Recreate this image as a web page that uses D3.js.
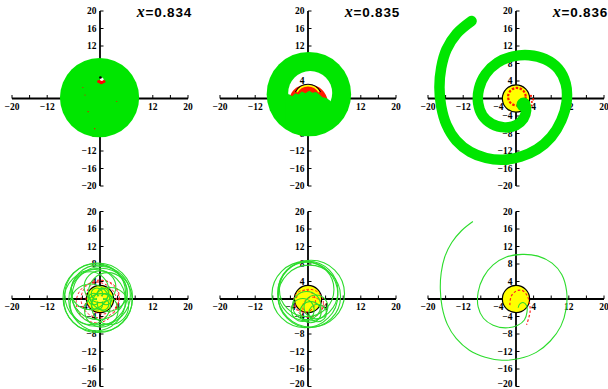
<!DOCTYPE html>
<html>
<head>
<meta charset="utf-8">
<script src="https://cdn.jsdelivr.net/npm/d3@7"></script>
<style>
  html, body { margin: 0; padding: 0; background: #fff; }
  svg { display: block; }
</style>
</head>
<body>
<svg id="fig" width="608" height="389"></svg>
<script>
// ---- axis annotation ----
const titles = ["0.834", "0.835", "0.836"];
const xTickLabels = [-20, -12, -4, 4, 12, 20];
const yTickLabels = [20, 16, 12, 8, 4, -4, -8, -12, -16, -20];
const tickMarks = [-20, -16, -12, -8, -4, 4, 8, 12, 16, 20];
const horizonR = 3.1;

// ---- x = 0.834, full photon cloud ----
const cloud834 = [{ x: -0.1, y: 0.2, r: 9.0 }];
const redSpots834 = [
  { x: 0.3, y: 3.8, r: 0.55 }, { x: -0.3, y: 3.9, r: 0.35 }, { x: 0.9, y: 3.9, r: 0.35 },
  { x: -2.7, y: -3.0, r: 0.15 }, { x: -3.4, y: 0.8, r: 0.12 }, { x: 3.8, y: -0.7, r: 0.12 },
  { x: -3.9, y: 2.5, r: 0.12 }, { x: -1.2, y: -6.9, r: 0.15 }
];
const gap834 = [{ x: 0.4, y: 4.4, r: 0.4 }];
const dot834 = [{ x: 0.1, y: 4.8, r: 0.3 }];

// ---- x = 0.835, ring with central cavity ----
const ring835 = [{ x: 0.2, y: 1.0, r: 9.6 }];
const hole835 = [{ x: 0.5, y: 1.25, r: 5.0 }];
const dome835 = [
  [-4.3, -0.3], [-4.0, 0.8], [-3.2, 2.0], [-2.0, 2.8], [0, 3.15], [2.0, 2.8],
  [3.2, 2.0], [4.0, 0.9], [4.5, -0.5], [4.4, -1.6], [3.6, -1.2]
];
const floor835 = [
  [-5.2, 0.9], [-4.3, 1.0], [-3.6, 0.5], [-2.9, 1.2], [-2.2, 0.9], [-1.4, 1.6],
  [-0.6, 1.2], [0.3, 1.8], [1.0, 1.3], [1.8, 1.5], [2.6, 0.9], [3.3, 0.3],
  [4.2, 0.1], [5.2, -0.6], [5.2, -5.0], [-5.2, -5.0]
];

// ---- x = 0.836, escaping spiral ----
const spiral836 = [
  [-10.1, 17.7], [-13.5, 14.8], [-15.8, 11.2], [-17.0, 7.0], [-17.4, 2.6], [-17.0, -1.8],
  [-15.8, -6.0], [-13.6, -9.6], [-10.4, -12.2], [-6.8, -13.6], [-3.0, -14.0], [1.0, -13.3],
  [4.8, -11.6], [8.0, -8.8], [10.3, -5.0], [11.5, -0.8], [11.3, 3.4], [9.6, 6.8],
  [6.6, 9.0], [3.0, 9.9], [-0.8, 9.6], [-4.2, 8.2], [-6.9, 5.6], [-8.4, 2.3],
  [-8.6, -1.1], [-7.6, -3.9], [-5.5, -5.8], [-2.6, -6.6], [0.0, -6.1], [1.7, -4.6],
  [2.3, -2.8], [2.0, -1.2]
];
const inner836 = [
  { x: 0.2, y: 0.4, r: 2.0 }, { x: 1.7, y: -1.4, r: 1.6 }
];
const redDots836 = [[3.6, -0.8], [3.9, -0.2], [3.4, 0.6], [3.5, -1.6], [2.9, -2.6]];

// ---- bottom row: single geodesics ----
const loops834 = [
  { x: -0.5, y: 0.3, r: 7.9 }, { x: -0.9, y: 0.9, r: 7.1 }, { x: 0.1, y: -0.2, r: 7.2 },
  { x: -1.2, y: -0.3, r: 7.0 }, { x: 0.3, y: 0.8, r: 6.6 }, { x: -0.4, y: 1.5, r: 6.2 },
  { x: -2.2, y: -1.2, r: 4.6 }, { x: 1.8, y: 1.6, r: 4.4 }, { x: 2.3, y: -1.6, r: 4.2 },
  { x: -2.3, y: 1.9, r: 4.3 }, { x: 0.3, y: -2.6, r: 3.8 }, { x: 0.0, y: 2.8, r: 3.6 },
  { x: 1.4, y: 0.0, r: 1.3 }, { x: 0.7, y: 1.2, r: 1.3 }, { x: -0.7, y: 1.2, r: 1.3 },
  { x: -1.4, y: 0.0, r: 1.3 }, { x: -0.7, y: -1.2, r: 1.3 }, { x: 0.7, y: -1.2, r: 1.3 }
];
const dashes834 = [
  { x: 0.0, y: 0.0, r: 4.3 }, { x: -0.8, y: -0.8, r: 4.6 }, { x: 0.6, y: 0.4, r: 3.8 }
];
const loops835 = [
  { x: -0.7, y: 1.0, r: 7.5 }, { x: 0.7, y: 1.2, r: 7.6 }, { x: 0.0, y: 1.8, r: 6.8 },
  { x: 0.3, y: 0.6, r: 7.1 }, { x: -0.3, y: 2.2, r: 6.2 },
  { x: -1.2, y: -2.5, r: 2.6 }, { x: 0.6, y: -3.0, r: 2.4 }, { x: 1.8, y: -1.8, r: 2.7 },
  { x: -0.3, y: -1.5, r: 3.2 }, { x: 2.2, y: -3.2, r: 2.0 }
];
const dashes835 = [
  { x: 0.3, y: -1.0, r: 3.2 }, { x: 1.0, y: -1.8, r: 2.2 }, { x: -0.8, y: -0.5, r: 2.5 }
];
const track836 = [
  [-9.8, 17.7], [-12.4, 15.6], [-14.6, 12.9], [-16.2, 9.6], [-17.0, 6.0], [-17.2, 2.2],
  [-16.8, -1.8], [-15.6, -5.8], [-13.6, -9.0], [-10.6, -11.7], [-7.0, -13.3], [-3.2, -14.0],
  [0.8, -13.6], [4.6, -12.2], [7.8, -9.6], [10.2, -6.2], [11.4, -2.2], [11.5, 1.8],
  [10.4, 5.6], [8.2, 8.2], [5.0, 9.8], [1.4, 10.2], [-2.2, 9.6], [-5.2, 7.8],
  [-7.4, 5.0], [-8.6, 1.6], [-8.6, -1.8], [-7.4, -4.4], [-5.2, -6.0], [-2.4, -6.6],
  [0.4, -6.0], [1.9, -4.8], [2.5, -3.0], [2.4, -1.5], [1.6, -0.8], [0.8, -1.2], [0.5, -2.0]
];
const dashTrack836 = [
  [-1.4, -1.4], [-1.1, 0.6], [0.0, 1.8], [1.3, 2.0], [2.4, 1.0], [3.0, -0.6], [3.2, -2.9], [2.4, -5.9]
];

// ---- layout ----
const colCenters = [100, 308, 516];
const rowCenters = [98.5, 299];
const GREEN = "#00e600";
const LINE_GREEN = "#2cdc2c";
const svg = d3.select("#fig");
const smooth = d3.curveCatmullRom.alpha(0.5);

function makePanel(col, row) {
  const cx = colCenters[col], cy = rowCenters[row];
  const x = d3.scaleLinear().domain([-20, 20]).range([cx - 88, cx + 88]);
  const y = d3.scaleLinear().domain([-20, 20]).range([cy + 87.5, cy - 87.5]);
  const g = svg.append("g");
  const axes = g.append("g");
  const plot = g.append("g");
  // axes through the origin
  axes.append("line").attr("x1", x(-20)).attr("x2", x(20)).attr("y1", y(0)).attr("y2", y(0))
    .attr("stroke", "#000").attr("stroke-width", 1.8);
  axes.append("line").attr("x1", x(0)).attr("x2", x(0)).attr("y1", y(-20)).attr("y2", y(20))
    .attr("stroke", "#000").attr("stroke-width", 1.8);
  axes.selectAll(".xt").data(tickMarks).join("line")
    .attr("x1", d => x(d)).attr("x2", d => x(d)).attr("y1", y(0)).attr("y2", y(0) - 3.5)
    .attr("stroke", "#000").attr("stroke-width", 1);
  axes.selectAll(".yt").data(tickMarks).join("line")
    .attr("y1", d => y(d)).attr("y2", d => y(d)).attr("x1", x(0)).attr("x2", x(0) + 3.5)
    .attr("stroke", "#000").attr("stroke-width", 1);
  const fmt = d => (d < 0 ? "\u2212" + Math.abs(d) : String(d));
  axes.selectAll(".xl").data(xTickLabels).join("text")
    .attr("x", d => x(d)).attr("y", y(0) + 11).attr("text-anchor", "middle")
    .attr("font-family", "Liberation Serif, serif").attr("font-weight", "bold").attr("font-size", 9.5)
    .text(fmt);
  // keep the lowest label inside the 389px frame
  axes.selectAll(".yl").data(yTickLabels).join("text")
    .attr("x", x(0) - 3.5).attr("y", d => Math.min(y(d) + 3.3, 386.5)).attr("text-anchor", "end")
    .attr("font-family", "Liberation Serif, serif").attr("font-weight", "bold").attr("font-size", 9.5)
    .text(fmt);
  return { g, plot, x, y, cx, cy };
}

function circles(p, data, attrs) {
  const sel = p.plot.append("g").selectAll("circle").data(data).join("circle")
    .attr("cx", d => p.x(d.x)).attr("cy", d => p.y(d.y))
    .attr("r", d => p.x(d.r) - p.x(0));
  Object.entries(attrs).forEach(([k, v]) => sel.attr(k, v));
  return sel;
}
function horizon(p, fill) {
  circles(p, [{ x: 0, y: 0, r: horizonR }], { fill: fill, stroke: "#000", "stroke-width": 1.2 });
}
function track(p, pts, curve, attrs) {
  const line = d3.line().x(d => p.x(d[0])).y(d => p.y(d[1])).curve(curve);
  const path = p.plot.append("path").datum(pts).attr("d", line).attr("fill", "none");
  Object.entries(attrs).forEach(([k, v]) => path.attr(k, v));
  return path;
}
function title(p, value) {
  const t = p.g.append("text").attr("x", p.cx + 92).attr("y", 17).attr("text-anchor", "end")
    .attr("font-size", 13.5).attr("font-weight", "bold").attr("letter-spacing", 0.8);
  t.append("tspan").attr("font-family", "Liberation Serif, serif").attr("font-style", "italic")
    .attr("font-size", 16).text("x");
  t.append("tspan").attr("font-family", "Liberation Sans, Arial, sans-serif").text("=" + value);
}

// panel (0,0): x = 0.834 cloud
{
  const p = makePanel(0, 0);
  circles(p, cloud834, { fill: GREEN });
  circles(p, redSpots834, { fill: "#ff0000" });
  circles(p, gap834, { fill: "#ffffff" });
  circles(p, dot834, { fill: "#000" });
  title(p, titles[0]);
}
// panel (1,0): x = 0.835 ring
{
  const p = makePanel(1, 0);
  circles(p, ring835, { fill: GREEN });
  circles(p, hole835, { fill: "#ffffff" });
  // the label inside the cavity stays readable
  p.plot.append("text").attr("x", p.x(0) - 3.5).attr("y", p.y(4) + 3.3).attr("text-anchor", "end")
    .attr("font-family", "Liberation Serif, serif").attr("font-weight", "bold").attr("font-size", 9.5)
    .text("4");
  track(p, dome835, d3.curveCardinalClosed, { fill: "#ff1a00" });
  p.plot.append("path")
    .attr("d", d3.arc()({ innerRadius: (p.x(horizonR) - p.x(0)) - 1.6, outerRadius: p.x(horizonR) - p.x(0),
      startAngle: -1.05, endAngle: 1.05 }))
    .attr("transform", `translate(${p.x(0)},${p.y(0)})`).attr("fill", "#ffff00");
  p.plot.append("path")
    .attr("d", d3.arc()({ innerRadius: p.x(horizonR) - p.x(0), outerRadius: p.x(horizonR) - p.x(0) + 1,
      startAngle: -1.1, endAngle: 1.1 }))
    .attr("transform", `translate(${p.x(0)},${p.y(0)})`).attr("fill", "#000");
  track(p, floor835, d3.curveLinear, { fill: GREEN });
  title(p, titles[1]);
}
// panel (2,0): x = 0.836 spiral
{
  const p = makePanel(2, 0);
  horizon(p, "#ffff00");
  circles(p, inner836.slice(0, 1), { fill: "none", stroke: "#ff1a00", "stroke-width": 2.2, "stroke-dasharray": "2.5,1.5" });
  p.plot.append("g").selectAll("circle").data(redDots836).join("circle")
    .attr("cx", d => p.x(d[0])).attr("cy", d => p.y(d[1])).attr("r", 1.1).attr("fill", "#ff1a00");
  track(p, spiral836, smooth, { stroke: GREEN, "stroke-width": 10.5, "stroke-linecap": "round" });
  circles(p, inner836.slice(1), { fill: GREEN });
  title(p, titles[2]);
}
// panel (0,1)
{
  const p = makePanel(0, 1);
  horizon(p, "#ffff00");
  circles(p, dashes834, { fill: "none", stroke: "#ff2020", "stroke-width": 1, "stroke-dasharray": "2.5,2" });
  circles(p, loops834, { fill: "none", stroke: LINE_GREEN, "stroke-width": 1.1 });
  circles(p, [{ x: 0, y: 0, r: 0.7 }], { fill: "#ffff40" });
}
// panel (1,1)
{
  const p = makePanel(1, 1);
  horizon(p, "#ffff00");
  circles(p, dashes835, { fill: "none", stroke: "#ff2020", "stroke-width": 1, "stroke-dasharray": "2.5,2" });
  circles(p, loops835, { fill: "none", stroke: LINE_GREEN, "stroke-width": 1.1 });
}
// panel (2,1)
{
  const p = makePanel(2, 1);
  horizon(p, "#ffff00");
  track(p, dashTrack836, smooth, { stroke: "#ff2020", "stroke-width": 1.2, "stroke-dasharray": "2.5,2" });
  track(p, track836, smooth, { stroke: LINE_GREEN, "stroke-width": 1.1 });
}
</script>
</body>
</html>
